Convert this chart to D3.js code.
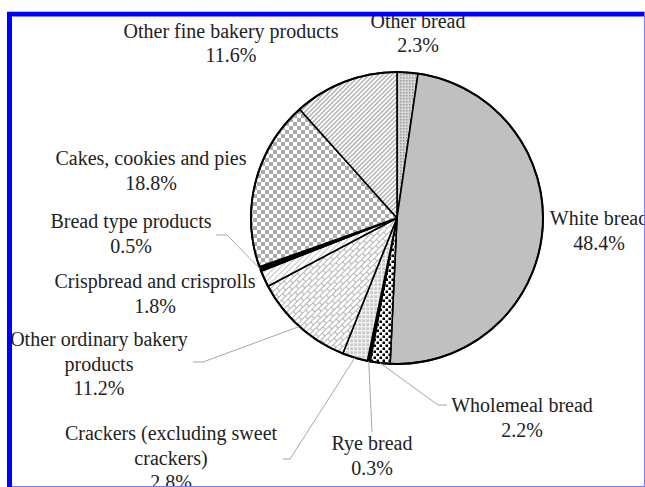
<!DOCTYPE html>
<html>
<head>
<meta charset="utf-8">
<script src="https://cdn.jsdelivr.net/npm/d3@7"></script>
<style>
  html, body { margin: 0; padding: 0; background: #fff; }
  svg { display: block; }
  text { font-family: "Liberation Serif", "Times New Roman", serif; font-size: 20px; fill: #222; }
</style>
</head>
<body>
<svg id="chart" width="645" height="487"></svg>
<script>
// Bakery product categories, clockwise from 12 o'clock
const categories = [
  "Other bread", "White bread", "Wholemeal bread", "Rye bread",
  "Crackers (excluding sweet crackers)", "Other ordinary bakery products",
  "Crispbread and crisprolls", "Bread type products",
  "Cakes, cookies and pies", "Other fine bakery products"
];
// Share of each category (%)
const shares = [2.3, 48.4, 2.2, 0.3, 2.8, 11.2, 1.8, 0.5, 18.8, 11.6];
// How each category name wraps in its label
const nameLines = [
  ["Other bread"], ["White bread"], ["Wholemeal bread"], ["Rye bread"],
  ["Crackers (excluding sweet", "crackers)"], ["Other ordinary bakery", "products"],
  ["Crispbread and crisprolls"], ["Bread type products"],
  ["Cakes, cookies and pies"], ["Other fine bakery products"]
];
// Fill pattern id per category
const fills = ["fineDots", "solidGrey", "blackDots", "solidBlack", "greyGrid",
               "bricks", "lightDiag", "solidBlack", "checker", "diagStripes"];

// Label placement: centre x, first baseline y, optional leader elbow/end near the label
const labelLayout = [
  { x: 418, y: 27.5 },
  { x: 599, y: 225 },
  { x: 522, y: 412, leader: [[438, 405], [447, 405]] },
  { x: 372, y: 450, leader: [[372, 432]] },
  { x: 171, y: 440, leader: [[290, 459], [283, 459]] },
  { x: 99,  y: 346, leader: [[203, 362], [193, 362]] },
  { x: 155, y: 288 },
  { x: 131, y: 228, leader: [[227, 235], [216, 235]] },
  { x: 151, y: 165 },
  { x: 231, y: 37.5 }
];

const W = 645, H = 487;
const cx = 397, cy = 218, R = 146;
const lineH = 24.5;

const svg = d3.select("#chart");
const defs = svg.append("defs");

// ---- fill patterns ----
function pat(id, w, h, transform) {
  const p = defs.append("pattern").attr("id", id)
    .attr("patternUnits", "userSpaceOnUse").attr("width", w).attr("height", h);
  if (transform) p.attr("patternTransform", transform);
  return p;
}
{
  const p = pat("fineDots", 3, 3);
  p.append("rect").attr("width", 3).attr("height", 3).attr("fill", "#d6d6d6");
  p.append("rect").attr("width", 1.5).attr("height", 1.5).attr("fill", "#9a9a9a");
}
{
  const p = pat("solidGrey", 4, 4);
  p.append("rect").attr("width", 4).attr("height", 4).attr("fill", "#c0c0c0");
}
{
  const p = pat("solidBlack", 4, 4);
  p.append("rect").attr("width", 4).attr("height", 4).attr("fill", "#000");
}
{
  const p = pat("blackDots", 6, 6);
  p.append("rect").attr("width", 6).attr("height", 6).attr("fill", "#fff");
  p.append("rect").attr("x", 0.5).attr("y", 0.5).attr("width", 2.5).attr("height", 2.5).attr("fill", "#000");
  p.append("rect").attr("x", 3.5).attr("y", 3.5).attr("width", 2.5).attr("height", 2.5).attr("fill", "#000");
}
{
  const p = pat("greyGrid", 4, 4);
  p.append("rect").attr("width", 4).attr("height", 4).attr("fill", "#c8c8c8");
  p.append("rect").attr("width", 4).attr("height", 1.3).attr("fill", "#f4f4f4");
  p.append("rect").attr("width", 1.3).attr("height", 4).attr("fill", "#f4f4f4");
}
{
  const p = pat("bricks", 10, 8, "rotate(-45)");
  p.append("rect").attr("width", 10).attr("height", 8).attr("fill", "#fff");
  const g = p.append("g").attr("stroke", "#b4b4b4").attr("stroke-width", 1).attr("fill", "none");
  g.append("line").attr("x1", 0).attr("x2", 10).attr("y1", 0.5).attr("y2", 0.5);
  g.append("line").attr("x1", 0).attr("x2", 10).attr("y1", 4.5).attr("y2", 4.5);
  g.append("line").attr("x1", 0.5).attr("x2", 0.5).attr("y1", 0).attr("y2", 4.5);
  g.append("line").attr("x1", 5.5).attr("x2", 5.5).attr("y1", 4.5).attr("y2", 8);
}
{
  const p = pat("lightDiag", 4, 4, "rotate(45)");
  p.append("rect").attr("width", 4).attr("height", 4).attr("fill", "#fff");
  p.append("rect").attr("width", 1).attr("height", 4).attr("fill", "#c4c4c4");
}
{
  const p = pat("checker", 8, 8);
  p.append("rect").attr("width", 8).attr("height", 8).attr("fill", "#fff");
  p.append("rect").attr("width", 4).attr("height", 4).attr("fill", "#ababab");
  p.append("rect").attr("x", 4).attr("y", 4).attr("width", 4).attr("height", 4).attr("fill", "#ababab");
}
{
  const p = pat("diagStripes", 3.2, 4, "rotate(45)");
  p.append("rect").attr("width", 3.2).attr("height", 4).attr("fill", "#fff");
  p.append("rect").attr("width", 1.4).attr("height", 4).attr("fill", "#b0b0b0");
}

svg.append("rect").attr("width", W).attr("height", H).attr("fill", "#fff");

// ---- pie ----
const data = categories.map((c, i) => ({ name: c, value: shares[i], lines: nameLines[i], fill: fills[i], layout: labelLayout[i] }));
const pie = d3.pie().value(d => d.value).sort(null).startAngle(0).endAngle(2 * Math.PI);
const arcs = pie(data);
const arc = d3.arc().innerRadius(0).outerRadius(R);

const g = svg.append("g").attr("transform", `translate(${cx},${cy})`);
g.selectAll("path.slice").data(arcs).join("path")
  .attr("class", "slice")
  .attr("d", arc)
  .attr("fill", d => `url(#${d.data.fill})`)
  .attr("stroke", "#000")
  .attr("stroke-width", 1.6)
  .attr("stroke-linejoin", "round");
g.append("circle").attr("r", R).attr("fill", "none").attr("stroke", "#000").attr("stroke-width", 2);

// ---- leader lines ----
const fmt = d3.format(".1f");
arcs.forEach(a => {
  const lay = a.data.layout;
  if (!lay.leader) return;
  const mid = (a.startAngle + a.endAngle) / 2;
  const start = [cx + R * Math.sin(mid), cy - R * Math.cos(mid)];
  svg.append("path")
    .attr("d", d3.line()([start, ...lay.leader]))
    .attr("fill", "none").attr("stroke", "#a6a6a6").attr("stroke-width", 1);
});

// ---- labels ----
arcs.forEach(a => {
  const lay = a.data.layout;
  const lines = [...a.data.lines, fmt(a.data.value) + "%"];
  const t = svg.append("text").attr("text-anchor", "middle");
  lines.forEach((ln, k) => {
    t.append("tspan").attr("x", lay.x).attr("y", lay.y + k * lineH).text(ln);
  });
});

// ---- frame ----
svg.append("rect").attr("x", 0).attr("y", 0).attr("width", W).attr("height", 11).attr("fill", "#fff");
svg.append("rect").attr("x", 0).attr("y", 0).attr("width", 7).attr("height", H).attr("fill", "#fff");
svg.append("rect").attr("x", 7).attr("y", 11).attr("width", W - 7).attr("height", 1).attr("fill", "#b8b8ff");
svg.append("rect").attr("x", 7).attr("y", 12).attr("width", W - 7).attr("height", 4.5).attr("fill", "#0000ff");
svg.append("rect").attr("x", 7).attr("y", 12).attr("width", 5).attr("height", H - 12).attr("fill", "#0000ff");
svg.append("rect").attr("x", W - 1).attr("y", 12).attr("width", 1).attr("height", H - 12).attr("fill", "#7a7aff");
svg.append("rect").attr("x", 12).attr("y", H - 1).attr("width", W - 12).attr("height", 1).attr("fill", "#7a7aff");
</script>
</body>
</html>
